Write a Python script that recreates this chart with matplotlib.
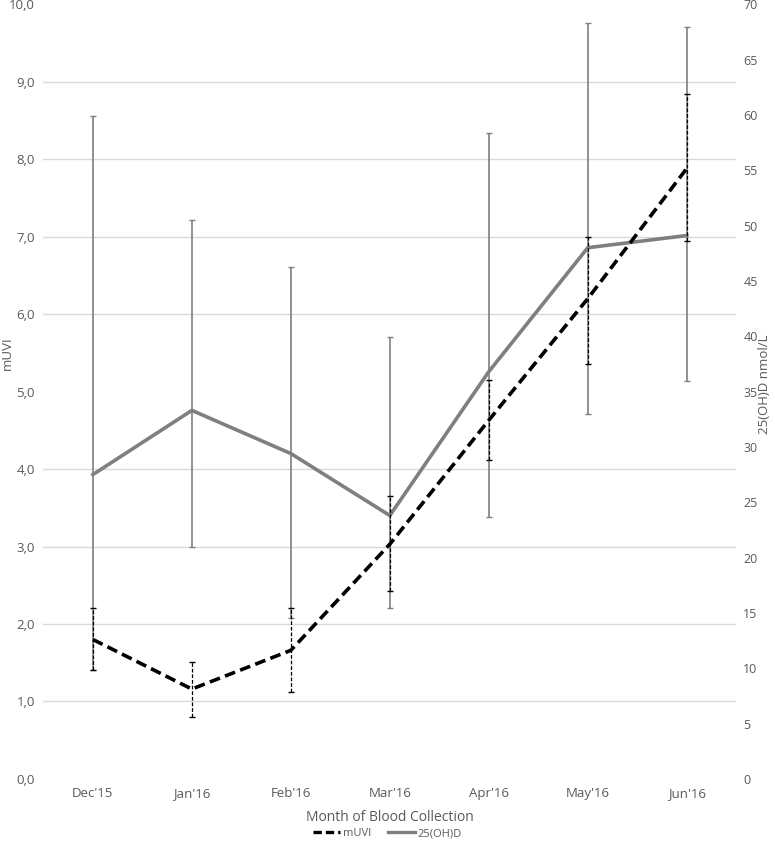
import matplotlib
matplotlib.use("Agg")
import matplotlib.pyplot as plt
from matplotlib.ticker import FuncFormatter, MultipleLocator
from matplotlib.lines import Line2D

# data
months = ["Dec'15", "Jan'16", "Feb'16", "Mar'16", "Apr'16", "May'16", "Jun'16"]
muvi = [1.80, 1.16, 1.66, 3.03, 4.63, 6.20, 7.88]
muvi_lo = [1.41, 0.80, 1.12, 2.43, 4.12, 5.35, 6.94]
muvi_hi = [2.21, 1.51, 2.21, 3.65, 5.15, 6.99, 8.84]
vitd = [27.5, 33.3, 29.4, 23.8, 36.8, 48.0, 49.1]
vitd_lo = [9.8, 21.0, 14.5, 15.4, 23.7, 33.0, 36.0]
vitd_hi = [59.9, 50.5, 46.3, 39.9, 58.4, 68.3, 67.9]

TXT = "#595959"
GREY = "#7f7f7f"
plt.rcParams['font.family'] = ['Open Sans', 'DejaVu Sans']

fig = plt.figure(figsize=(7.75, 8.43), dpi=100)
# right axis (grey series) sits underneath, left axis (mUVI) on top
ax2 = fig.add_axes([0.056, 0.076, 0.894, 0.919])
ax = ax2.twinx()
ax.yaxis.tick_left()
ax.yaxis.set_label_position("left")
ax2.yaxis.tick_right()
ax2.yaxis.set_label_position("right")
ax.patch.set_visible(False)

x = list(range(len(months)))

# 25(OH)D
err_d = [[v - lo for v, lo in zip(vitd, vitd_lo)], [hi - v for v, hi in zip(vitd, vitd_hi)]]
ax2.errorbar(x, vitd, yerr=err_d, fmt='none', ecolor=GREY, elinewidth=1.2,
             capsize=2.5, capthick=1.0, zorder=2)
ax2.plot(x, vitd, color=GREY, lw=2.6, zorder=3)

# mUVI
err_m = [[v - lo for v, lo in zip(muvi, muvi_lo)], [hi - v for v, hi in zip(muvi, muvi_hi)]]
eb = ax.errorbar(x, muvi, yerr=err_m, fmt='none', ecolor='black', elinewidth=0.9,
                 capsize=2.5, capthick=1.0, zorder=2)
eb[2][0].set_linestyle((0, (3, 1.5)))
ax.plot(x, muvi, color='black', lw=2.6, ls=(0, (3, 1.5)), zorder=3)

ax.set_ylim(0, 10)
ax2.set_ylim(0, 70)
ax.set_xlim(-0.5, 6.5)
ax.yaxis.set_major_locator(MultipleLocator(1))
ax.yaxis.set_major_formatter(FuncFormatter(lambda v, p: f"{v:.1f}".replace('.', ',')))
ax2.yaxis.set_major_locator(MultipleLocator(5))
ax2.yaxis.set_major_formatter(FuncFormatter(lambda v, p: f"{v:.0f}"))

# gridlines follow the left scale, drawn on the bottom axes
ax2.yaxis.set_minor_locator(MultipleLocator(7))
ax2.grid(which='minor', axis='y', color='#d9d9d9', lw=1.0, zorder=0)
ax2.tick_params(which='minor', length=0)
ax2.set_axisbelow(True)

ax2.set_xticks(x)
ax2.set_xticklabels(months)

for a in (ax, ax2):
    for s in a.spines.values():
        s.set_visible(False)
    a.tick_params(which='major', length=0, labelsize=9.5, colors=TXT, pad=6)
ax2.tick_params(axis='y', pad=5, labelsize=9)

ax.set_ylabel("mUVI", color=TXT, fontsize=9.5)
ax.yaxis.set_label_coords(-0.043, 0.55)
ax2.set_ylabel("25(OH)D nmol/L", color=TXT, fontsize=9.5)
ax2.yaxis.set_label_coords(1.031, 0.51)
ax2.set_xlabel("Month of Blood Collection", color=TXT, fontsize=10, labelpad=7)

handles = [Line2D([], [], color='black', lw=2.4, ls=(0, (2.5, 1.2))),
           Line2D([], [], color=GREY, lw=2.4)]
fig.legend(handles, ["mUVI", "25(OH)D"], loc='center', bbox_to_anchor=(0.5, 0.011),
           ncol=2, frameon=False, fontsize=8, labelcolor=TXT, handlelength=2.4,
           handletextpad=0.3, columnspacing=1.5)

fig.savefig("out.png", dpi=100)
